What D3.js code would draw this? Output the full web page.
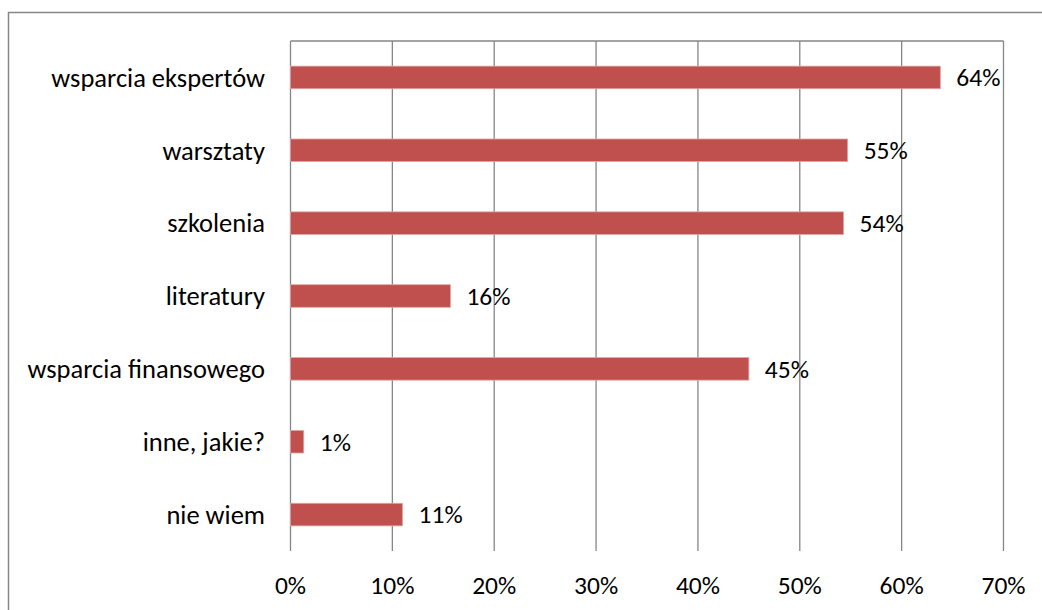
<!DOCTYPE html>
<html>
<head>
<meta charset="utf-8">
<script src="https://cdn.jsdelivr.net/npm/d3@7"></script>
<style>
  html, body { margin: 0; padding: 0; background: #fff; }
  svg { display: block; }
  text { font-family: Carlito, Calibri, Lato, "Open Sans", sans-serif; fill: #000; }
</style>
</head>
<body>
<svg id="chart" width="1042" height="610"></svg>
<script>
const categories = ["wsparcia ekspertów", "warsztaty", "szkolenia", "literatury", "wsparcia finansowego", "inne, jakie?", "nie wiem"];
const values = [0.638, 0.547, 0.543, 0.157, 0.450, 0.013, 0.110];
const valueLabels = ["64%", "55%", "54%", "16%", "45%", "1%", "11%"];
const tickValues = [0, 0.1, 0.2, 0.3, 0.4, 0.5, 0.6, 0.7];
const tickLabels = ["0%", "10%", "20%", "30%", "40%", "50%", "60%", "70%"];

const svg = d3.select("#chart");
const W = 1042, H = 610;
const m = { left: 290.5, right: W - 1003.5, top: 41, bottom: H - 551 };
const catFont = 26.5;
const numFont = 25.5;

// outer frame
svg.append("rect")
  .attr("x", 8.5).attr("y", 12.5)
  .attr("width", 1100).attr("height", 700)
  .attr("fill", "none").attr("stroke", "#868686").attr("stroke-width", 1.5);

const x = d3.scaleLinear().domain([0, 0.7]).range([m.left, W - m.right]);
const y = d3.scaleBand().domain(categories).range([m.top, H - m.bottom]).paddingInner(0.69).paddingOuter(0.345);

// gridlines
svg.append("g").selectAll("line").data(tickValues).join("line")
  .attr("x1", d => x(d)).attr("x2", d => x(d))
  .attr("y1", m.top).attr("y2", H - m.bottom)
  .attr("stroke", "#868686").attr("stroke-width", 1.3);

// top plot border
svg.append("line")
  .attr("x1", x(0)).attr("x2", x(0.7))
  .attr("y1", m.top).attr("y2", m.top)
  .attr("stroke", "#868686").attr("stroke-width", 1.3);

// bars
svg.append("g").selectAll("rect").data(categories).join("rect")
  .attr("x", x(0))
  .attr("y", d => y(d))
  .attr("width", (d, i) => x(values[i]) - x(0))
  .attr("height", y.bandwidth())
  .attr("fill", "#C0504D")
  .attr("stroke", "#E0A6A4").attr("stroke-width", 0.8);

// value labels
svg.append("g").selectAll("text").data(categories).join("text")
  .attr("x", (d, i) => x(values[i]) + 16)
  .attr("y", d => y(d) + y.bandwidth() / 2)
  .attr("dy", "0.35em")
  .attr("font-size", numFont)
  .text((d, i) => valueLabels[i]);

// category labels
svg.append("g").selectAll("text").data(categories).join("text")
  .attr("x", 265)
  .attr("y", d => y(d) + y.bandwidth() / 2)
  .attr("dy", "0.35em")
  .attr("text-anchor", "end")
  .attr("font-size", catFont)
  .text(d => d);

// x tick labels
svg.append("g").selectAll("text").data(tickValues).join("text")
  .attr("x", d => x(d))
  .attr("y", 585.5)
  .attr("dy", "0.35em")
  .attr("text-anchor", "middle")
  .attr("font-size", numFont)
  .text((d, i) => tickLabels[i]);
</script>
</body>
</html>
